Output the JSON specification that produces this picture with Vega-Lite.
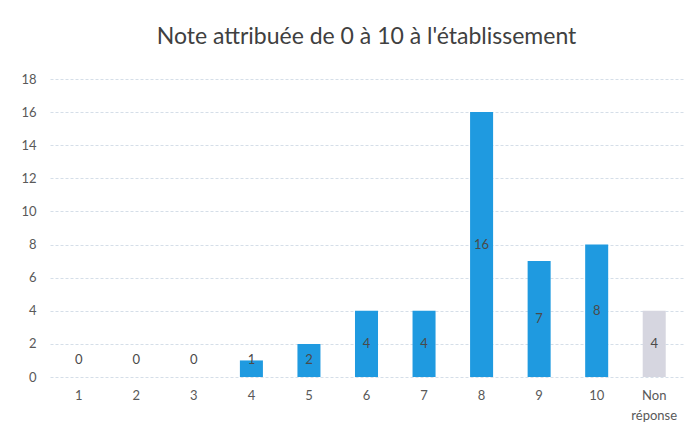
{
  "$schema": "https://vega.github.io/schema/vega-lite/v6.json",
  "autosize": {"type": "none"},
  "width": 633,
  "height": 298,
  "padding": {"left": 50, "top": 79, "right": 16, "bottom": 55},
  "background": "white",
  "config": {
    "font": "Lato",
    "view": {"stroke": null},
    "axisY": {
      "title": null,
      "values": [0, 2, 4, 6, 8, 10, 12, 14, 16, 18],
      "labelOverlap": false,
      "ticks": false,
      "domain": false,
      "labelPadding": 14,
      "labelFontSize": 13,
      "labelColor": "#595959",
      "gridColor": "#d5dee8",
      "gridDash": [3, 2],
      "gridWidth": 1
    }
  },
  "title": {
    "text": "Note attribuée de 0 à 10 à l'établissement",
    "fontSize": 23,
    "fontWeight": "normal",
    "color": "#404040",
    "offset": 24,
    "anchor": "middle"
  },
  "data": {
    "values": [
      {"note": "1", "effectif": 0, "groupe": "note"},
      {"note": "2", "effectif": 0, "groupe": "note"},
      {"note": "3", "effectif": 0, "groupe": "note"},
      {"note": "4", "effectif": 1, "groupe": "note"},
      {"note": "5", "effectif": 2, "groupe": "note"},
      {"note": "6", "effectif": 4, "groupe": "note"},
      {"note": "7", "effectif": 4, "groupe": "note"},
      {"note": "8", "effectif": 16, "groupe": "note"},
      {"note": "9", "effectif": 7, "groupe": "note"},
      {"note": "10", "effectif": 8, "groupe": "note"},
      {"note": "Non réponse", "effectif": 4, "groupe": "nr"}
    ]
  },
  "encoding": {
    "x": {
      "field": "note",
      "type": "nominal",
      "sort": null,
      "scale": {"paddingInner": 0.6, "paddingOuter": 0.3},
      "axis": {
        "title": null,
        "labelAngle": 0,
        "ticks": false,
        "domain": false,
        "labelPadding": 12,
        "labelFontSize": 13,
        "labelColor": "#595959",
        "labelLineHeight": 20,
        "labelExpr": "datum.value == 'Non réponse' ? ['Non', 'réponse'] : datum.value"
      }
    }
  },
  "layer": [
    {
      "mark": {"type": "bar"},
      "encoding": {
        "y": {
          "field": "effectif",
          "type": "quantitative",
          "title": null,
          "scale": {"domain": [0, 18], "nice": false}
        },
        "color": {
          "field": "groupe",
          "type": "nominal",
          "scale": {"domain": ["note", "nr"], "range": ["#1f9ae0", "#d6d6e0"]},
          "legend": null
        }
      }
    },
    {
      "transform": [
        {"calculate": "max(datum.effectif / 2, 1)", "as": "position_etiquette"}
      ],
      "mark": {"type": "text", "fontSize": 13, "color": "#4a4a4a"},
      "encoding": {
        "y": {"field": "position_etiquette", "type": "quantitative", "title": null},
        "text": {"field": "effectif", "type": "quantitative"}
      }
    }
  ]
}
